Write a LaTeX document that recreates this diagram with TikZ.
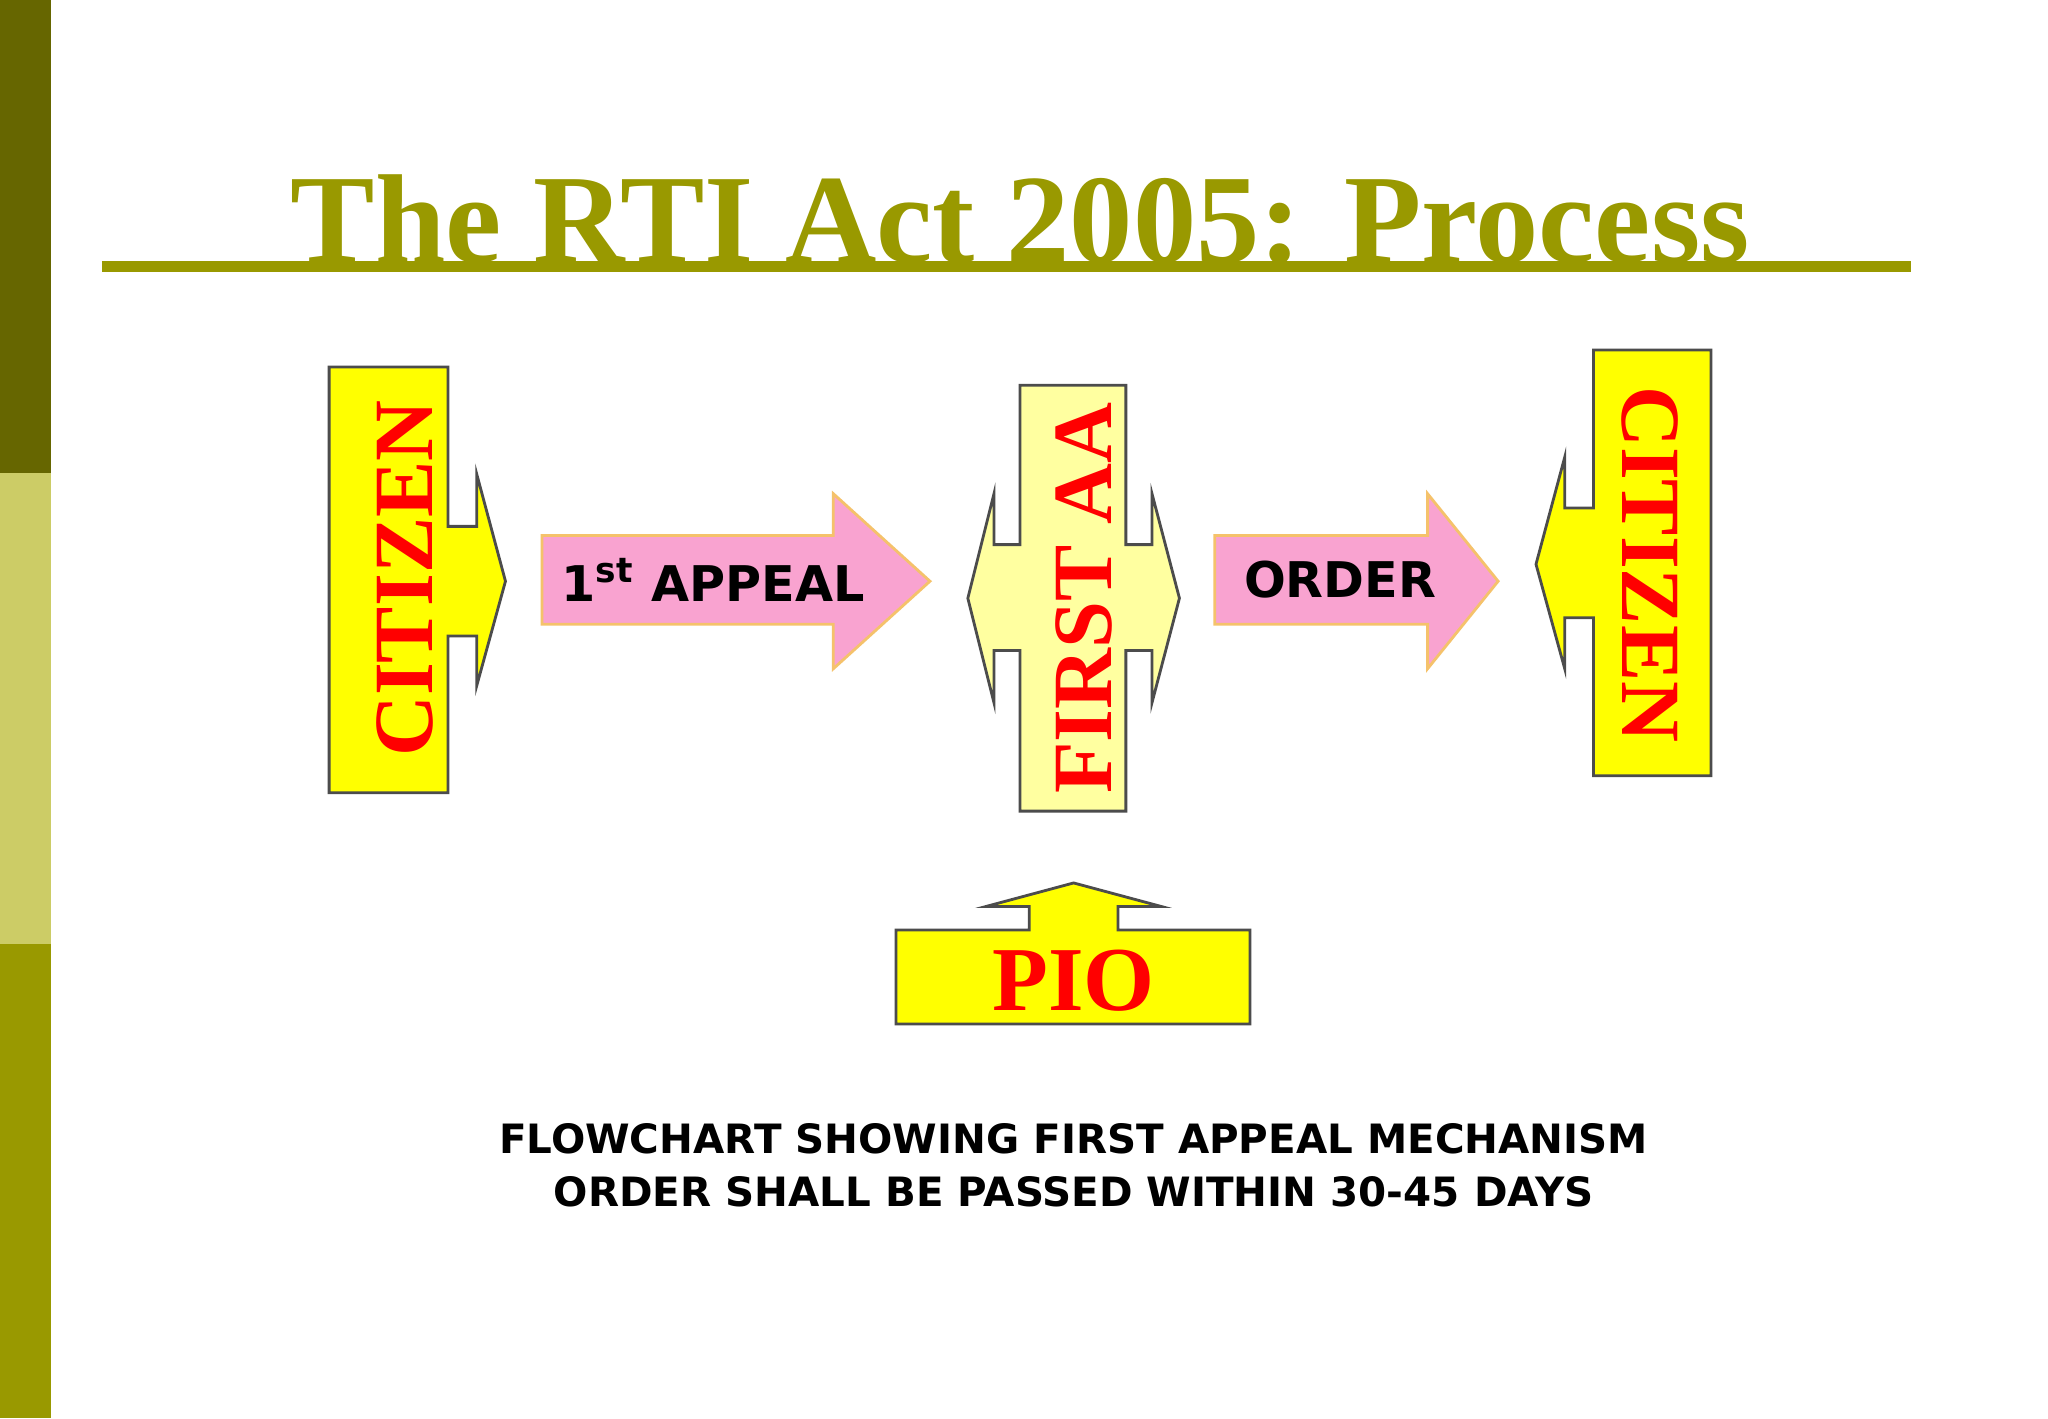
\documentclass[tikz,border=0pt]{standalone}
\usepackage{fontspec}
\setmainfont{Liberation Serif}
\newfontfamily\vfont{DejaVu Sans}
\definecolor{olive1}{HTML}{666600}
\definecolor{olive2}{HTML}{CCCC66}
\definecolor{olive3}{HTML}{999900}
\definecolor{ylw}{HTML}{FFFF00}
\definecolor{lylw}{HTML}{FFFFA0}
\definecolor{pnk}{HTML}{F9A3D0}
\definecolor{pnkbd}{HTML}{F5C26B}
\definecolor{txtred}{HTML}{FF0000}
\begin{document}
\begin{tikzpicture}[x=0.013061cm,y=-0.013061cm,
  shapebd/.style={draw=black!70,line width=0.8pt},
  redtxt/.style={text=txtred,font=\bfseries\fontsize{24}{24}\selectfont},
  arrtxt/.style={font=\vfont\bfseries\fontsize{14}{14}\selectfont},
  captxt/.style={font=\vfont\bfseries\fontsize{11.5}{15}\selectfont,align=center}]
\useasboundingbox (0,0) rectangle (1568,1086);
\fill[white] (0,0) rectangle (1568,1086);
\fill[olive1] (0,0) rectangle (39,362);
\fill[olive2] (0,362) rectangle (39,723);
\fill[olive3] (0,723) rectangle (39,1086);
\node[text=olive3,font=\bfseries\fontsize{36}{36}\selectfont] (title) at (781,168) {The RTI Act 2005: Process};
\draw[olive3,line width=3pt] (78,204) -- (1463,204);
% citizen left
\filldraw[shapebd,fill=ylw] (252,281)--(343,281)--(343,403)--(365,403)--(365,363)--(387,445)--(365,525)--(365,487)--(343,487)--(343,607)--(252,607)--cycle;
\node[redtxt,rotate=90] (cit1) at (310,443) {CITIZEN};
% appeal arrow
\filldraw[draw=pnkbd,fill=pnk,line width=0.8pt] (415,410)--(638,410)--(638,378)--(712,445)--(638,512)--(638,478)--(415,478)--cycle;
\node[arrtxt] (app) at (546,444) {1\textsuperscript{st} APPEAL};
% first AA
\filldraw[shapebd,fill=lylw] (781,295)--(862,295)--(862,417)--(882,417)--(882,378)--(903,458)--(882,538)--(882,498)--(862,498)--(862,621)--(781,621)--(781,498)--(761,498)--(761,538)--(741,458)--(761,378)--(761,417)--(781,417)--cycle;
\node[redtxt,rotate=90] (faa) at (830,458) {FIRST AA};
% order arrow
\filldraw[draw=pnkbd,fill=pnk,line width=0.8pt] (930,410)--(1093,410)--(1093,378)--(1147,445)--(1093,512)--(1093,478)--(930,478)--cycle;
\node[arrtxt] (ord) at (1026,444) {ORDER};
% citizen right
\filldraw[shapebd,fill=ylw] (1220,268)--(1310,268)--(1310,594)--(1220,594)--(1220,473)--(1198,473)--(1198,512)--(1176,432)--(1198,350)--(1198,389)--(1220,389)--cycle;
\node[redtxt,rotate=-90] (cit2) at (1263,432) {CITIZEN};
% PIO
\filldraw[shapebd,fill=ylw] (686,712)--(788,712)--(788,694)--(755,694)--(822,676)--(889,694)--(856,694)--(856,712)--(957,712)--(957,784)--(686,784)--cycle;
\node[redtxt,font=\bfseries\fontsize{26}{26}\selectfont] (pio) at (822,751) {PIO};
\node[captxt] (cap) at (822,892) {FLOWCHART SHOWING FIRST APPEAL MECHANISM\\ORDER SHALL BE PASSED WITHIN 30-45 DAYS};
\end{tikzpicture}
\end{document}
